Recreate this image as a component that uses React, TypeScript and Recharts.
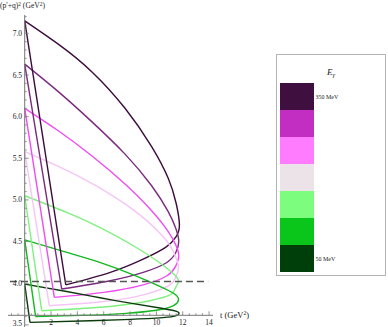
import React from 'react';
import { LineChart, Line, XAxis, YAxis, ReferenceLine } from 'recharts';

const energyLabels = ['350 MeV', '300 MeV', '250 MeV', '200 MeV', '150 MeV', '100 MeV', '50 MeV'];
const curveColors = ['#3b0c3b', '#7a2a7e', '#f04cf0', '#f5c6f5', '#7ff07f', '#14b820', '#0b3a0b'];
const legendColors = ['#3f0f3f', '#c22ec2', '#ff7bff', '#ebe3e8', '#7dfd7d', '#0ac61a', '#003f0a'];

// each arc: top (t=0) -> upper branch -> tip -> lower branch -> vertex
const arc350 = [
  { t: 0, s: 7.15 }, { t: 2.55, s: 6.87 }, { t: 5.09, s: 6.54 }, { t: 7.62, s: 6.1 }, { t: 9.64, s: 5.64 },
  { t: 10.9, s: 5.26 }, { t: 11.5, s: 4.96 }, { t: 11.75, s: 4.7 }, { t: 11.5, s: 4.56 }, { t: 10.7, s: 4.43 },
  { t: 9.0, s: 4.29 }, { t: 6.5, s: 4.13 }, { t: 3.12, s: 3.98 },
];
const arc300 = [
  { t: 0, s: 6.63 }, { t: 2.55, s: 6.3 }, { t: 5.09, s: 5.94 }, { t: 7.62, s: 5.55 }, { t: 9.64, s: 5.17 },
  { t: 10.9, s: 4.86 }, { t: 11.47, s: 4.66 }, { t: 11.7, s: 4.5 }, { t: 11.45, s: 4.36 }, { t: 10.7, s: 4.24 },
  { t: 9.0, s: 4.13 }, { t: 6.5, s: 4.03 }, { t: 2.81, s: 3.93 },
];
const arc250 = [
  { t: 0, s: 6.1 }, { t: 2.55, s: 5.83 }, { t: 5.09, s: 5.53 }, { t: 7.62, s: 5.19 }, { t: 9.64, s: 4.87 },
  { t: 10.9, s: 4.62 }, { t: 11.47, s: 4.46 }, { t: 11.7, s: 4.33 }, { t: 11.45, s: 4.2 }, { t: 10.8, s: 4.09 },
  { t: 9.0, s: 3.98 }, { t: 6.0, s: 3.89 }, { t: 2.25, s: 3.83 },
];
const arc200 = [
  { t: 0, s: 5.58 }, { t: 2.6, s: 5.4 }, { t: 5.3, s: 5.18 }, { t: 8.25, s: 4.88 }, { t: 10.27, s: 4.6 },
  { t: 11.2, s: 4.41 }, { t: 11.55, s: 4.28 }, { t: 11.68, s: 4.18 }, { t: 11.4, s: 4.05 }, { t: 10.8, s: 3.96 },
  { t: 9.0, s: 3.86 }, { t: 6.0, s: 3.78 }, { t: 1.87, s: 3.73 },
];
const arc150 = [
  { t: 0, s: 5.05 }, { t: 3.2, s: 4.85 }, { t: 5.7, s: 4.67 }, { t: 8.25, s: 4.45 }, { t: 10.3, s: 4.24 },
  { t: 11.25, s: 4.12 }, { t: 11.68, s: 4.03 }, { t: 11.4, s: 3.93 }, { t: 11.03, s: 3.86 }, { t: 9.5, s: 3.79 },
  { t: 7.74, s: 3.745 }, { t: 5.21, s: 3.705 }, { t: 1.29, s: 3.67 },
];
const arc100 = [
  { t: 0, s: 4.52 }, { t: 3.2, s: 4.37 }, { t: 5.7, s: 4.25 }, { t: 8.25, s: 4.1 }, { t: 10.3, s: 3.96 },
  { t: 11.3, s: 3.88 }, { t: 11.68, s: 3.81 }, { t: 11.3, s: 3.73 }, { t: 10.0, s: 3.675 }, { t: 7.7, s: 3.638 },
  { t: 5.0, s: 3.617 }, { t: 0.83, s: 3.6 },
];
const arc50 = [
  { t: 0, s: 3.99 }, { t: 3.19, s: 3.9 }, { t: 5.72, s: 3.825 }, { t: 8.25, s: 3.755 }, { t: 10.27, s: 3.703 },
  { t: 11.3, s: 3.672 }, { t: 11.72, s: 3.643 }, { t: 11.45, s: 3.607 }, { t: 10.5, s: 3.587 }, { t: 8.0, s: 3.566 },
  { t: 5.0, s: 3.55 }, { t: 0.4, s: 3.53 },
];
const arcs = [arc350, arc300, arc250, arc200, arc150, arc100, arc50];

const thresholdS = 4.02;

const yMajorTicks = [3.5, 4.0, 4.5, 5.0, 5.5, 6.0, 6.5, 7.0];
const xMajorTicks = [2, 4, 6, 8, 10, 12, 14];
const yTicks: number[] = [];
for (let i = 35; i <= 72; i++) yTicks.push(i / 10);
const xTicks: number[] = [];
for (let i = -2; i <= 28; i++) if (i !== 0) xTicks.push(i / 2);

const FONT = "'Liberation Serif', 'DejaVu Serif', serif";
const AXIS = '#777';
const CHART_H = 319;

const isMajor = (list: number[], v: number) => list.some((m) => Math.abs(m - v) < 1e-6);

const YTick = (props: any) => {
  const { x, y, payload } = props;
  const v = payload.value as number;
  const major = isMajor(yMajorTicks, v);
  // keep the lowest label inside the picture
  const dy = Math.min(2.55, CHART_H - 0.6 - y);
  return (
    <g>
      <line x1={x} x2={x + (major ? 4 : 2)} y1={y} y2={y} stroke={AXIS} strokeWidth={0.8} />
      {major && (
        <text x={x - 2.7} y={y + dy} textAnchor="end" fontSize={7.5} fontFamily={FONT} fill="#222">
          {v.toFixed(1)}
        </text>
      )}
    </g>
  );
};

const XTick = (props: any) => {
  const { x, y, payload } = props;
  const v = payload.value as number;
  const major = isMajor(xMajorTicks, v);
  return (
    <g>
      <line x1={x} x2={x} y1={y} y2={y - (major ? 4 : 2)} stroke={AXIS} strokeWidth={0.8} />
      {major && (
        <text x={x} y={y + 9.3} textAnchor="middle" fontSize={7.5} fontFamily={FONT} fill="#222">
          {String(v)}
        </text>
      )}
    </g>
  );
};

const sup = { fontSize: '0.7em', position: 'relative' as const, top: '-0.45em' };

export default function App() {
  return (
    <div style={{ position: 'relative', width: 388, height: 327, fontFamily: FONT }}>
      <style>{`body { margin: 0; } .recharts-line, .recharts-line * { clip-path: none !important; }`}</style>
      <div style={{ position: 'absolute', left: 8, top: 8 }}>
        <LineChart width={232} height={CHART_H} margin={{ top: 7, right: 27, bottom: 0, left: 0 }}>
          <XAxis
            type="number"
            dataKey="t"
            domain={[0, 14.3]}
            ticks={xTicks}
            interval={0}
            tickSize={0}
            tickMargin={0}
            tickLine={false}
            axisLine={{ stroke: AXIS }}
            tick={(p: any) => <XTick {...p} />}
            height={11.7}
          />
          <YAxis
            type="number"
            domain={[3.615, 7.22]}
            allowDataOverflow
            ticks={yTicks}
            interval={0}
            tickSize={0}
            tickMargin={0}
            tickLine={false}
            axisLine={{ stroke: AXIS }}
            tick={(p: any) => <YTick {...p} />}
            width={16.7}
          />
          <ReferenceLine
            segment={[{ x: -1.37, y: 3.615 }, { x: 0, y: 3.615 }]}
            stroke={AXIS}
            ifOverflow="visible"
          />
          <ReferenceLine
            segment={[{ x: 0, y: 3.615 }, { x: 0, y: 3.4 }]}
            stroke={AXIS}
            ifOverflow="visible"
          />
          {arcs.map((arc, i) => (
            <Line
              key={'arc' + i}
              data={arc}
              dataKey="s"
              type="natural"
              stroke={curveColors[i]}
              strokeWidth={1.4}
              dot={false}
              activeDot={false}
              isAnimationActive={false}
            />
          ))}
          {arcs.map((arc, i) => (
            <Line
              key={'edge' + i}
              data={[arc[arc.length - 1], arc[0]]}
              dataKey="s"
              type="linear"
              stroke={curveColors[i]}
              strokeWidth={1.4}
              dot={false}
              activeDot={false}
              isAnimationActive={false}
            />
          ))}
          <ReferenceLine
            segment={[{ x: -1.12, y: thresholdS }, { x: 13.93, y: thresholdS }]}
            stroke="#555"
            strokeWidth={1.6}
            strokeDasharray="7 4"
            ifOverflow="visible"
          />
        </LineChart>
      </div>
      <div style={{ position: 'absolute', left: 0, top: 2.1, fontSize: 7.6, lineHeight: 1, whiteSpace: 'nowrap', color: '#222', zIndex: 2 }}>
        (p'+q)<span style={sup}>2</span> (GeV<span style={sup}>2</span>)
      </div>
      <div style={{ position: 'absolute', left: 220, top: 310.9, fontSize: 8.5, lineHeight: 1, whiteSpace: 'nowrap', color: '#222', zIndex: 2 }}>
        t (GeV<span style={sup}>2</span>)
      </div>
      <div
        style={{
          position: 'absolute',
          left: 276,
          top: 54,
          width: 110,
          height: 222,
          boxSizing: 'border-box',
          border: '1px solid #b4b4b4',
          background: '#fff',
        }}
      >
        <div style={{ position: 'absolute', top: 13, left: 0, width: '100%', textAlign: 'center', fontSize: 9, lineHeight: 1, fontStyle: 'italic', color: '#222' }}>
          E<span style={{ fontSize: '0.7em', position: 'relative', top: '0.3em' }}>γ</span>
        </div>
        {legendColors.map((c, i) => (
          <div
            key={'sw' + i}
            style={{ position: 'absolute', left: 3, top: 28.3 + i * 27, width: 34, height: 27, background: c }}
          />
        ))}
        {[0, legendColors.length - 1].map((i) => (
          <div
            key={'lb' + i}
            style={{ position: 'absolute', left: 38.5, top: 28.3 + i * 27 + 10.5, fontSize: 6, lineHeight: 1, whiteSpace: 'nowrap', color: '#222' }}
          >
            {energyLabels[i]}
          </div>
        ))}
      </div>
    </div>
  );
}
